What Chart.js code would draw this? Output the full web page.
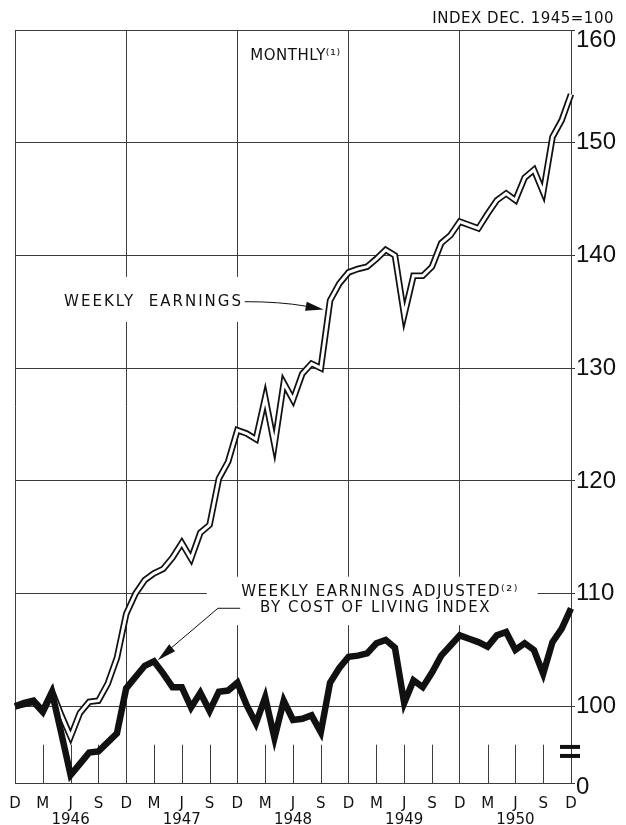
<!DOCTYPE html>
<html>
<head>
<meta charset="utf-8">
<title>Weekly earnings - index Dec. 1945 = 100</title>
<script src="https://cdn.jsdelivr.net/npm/chart.js@4.4.1/dist/chart.umd.min.js"></script>
<style>
  body { margin: 0; background: #fff; }
  canvas { display: block; }
</style>
</head>
<body>
<canvas id="earningsChart" width="626" height="825"></canvas>
<script>
// ------------------------------ data ------------------------------------------

// one entry per month, Dec 1945 ... Dec 1950
var monthLetters = [
  'D',
  'J','F','M','A','M','J','J','A','S','O','N','D',   // 1946
  'J','F','M','A','M','J','J','A','S','O','N','D',   // 1947
  'J','F','M','A','M','J','J','A','S','O','N','D',   // 1948
  'J','F','M','A','M','J','J','A','S','O','N','D',   // 1949
  'J','F','M','A','M','J','J','A','S','O','N','D'    // 1950
];
var yearLabels = ['1946', '1947', '1948', '1949', '1950'];

// weekly earnings, index Dec 1945 = 100
var weeklyEarnings = [
  100.0,
  100.3, 100.5, 99.6, 101.3, 99.2, 97.3, 99.4, 100.4, 100.5, 102.0, 104.3, 108.2,
  110.0, 111.2, 111.8, 112.2, 113.2, 114.5, 113.1, 115.4, 116.1, 120.2, 121.7, 124.5,
  124.2, 123.7, 127.4, 123.2, 128.7, 127.2, 129.5, 130.4, 130.0, 136.0, 137.5, 138.5,
  138.8, 139.0, 139.7, 140.5, 140.0, 134.7, 138.2, 138.2, 139.0, 141.1, 141.8, 143.0,
  142.7, 142.4, 143.7, 144.9, 145.5, 144.9, 146.9, 147.6, 145.6, 150.5, 152.0, 154.3
];

// weekly earnings adjusted by cost of living index
var adjustedEarnings = [
  100.0,
  100.2, 100.4, 99.5, 101.2, 97.6, 93.9, 94.9, 95.9, 96.0, 96.8, 97.6, 101.6,
  102.6, 103.6, 104.0, 102.9, 101.7, 101.7, 99.9, 101.2, 99.6, 101.3, 101.4, 102.1,
  100.1, 98.5, 100.8, 97.2, 100.5, 98.8, 98.9, 99.2, 97.7, 102.1, 103.4, 104.4,
  104.5, 104.7, 105.6, 105.9, 105.2, 100.3, 102.3, 101.7, 103.0, 104.5, 105.4, 106.3,
  106.0, 105.7, 105.3, 106.3, 106.6, 105.0, 105.6, 105.0, 102.9, 105.7, 106.9, 108.7
];

var yTickValues = [100, 110, 120, 130, 140, 150, 160];
var yBottomValue = 93.2;   // cut off scale, the bottom line is labelled 0
var yBottomLabel = '0';

// ------------------------------ styles ----------------------------------------

var ink = '#111';
var gridColor = '#3c3c3c';
var letterFont = "'DejaVu Sans', sans-serif";
var numberFont = "'Liberation Sans', sans-serif";

// ------------------------------ helpers ---------------------------------------

function drawArrowHead(ctx, fromX, fromY, tipX, tipY, len, halfWidth) {
  var ang = Math.atan2(tipY - fromY, tipX - fromX);
  var bx = tipX - Math.cos(ang) * len;
  var by = tipY - Math.sin(ang) * len;
  ctx.beginPath();
  ctx.moveTo(tipX, tipY);
  ctx.lineTo(bx + Math.sin(ang) * halfWidth, by - Math.cos(ang) * halfWidth);
  ctx.lineTo(bx - Math.sin(ang) * halfWidth, by + Math.cos(ang) * halfWidth);
  ctx.closePath();
  ctx.fill();
}

// labels, arrows and the small quarter ticks, placed through the scales
var annotationsPlugin = {
  id: 'annotations',
  beforeDatasetsDraw: function (chart) {
    var ctx = chart.ctx;
    var xs = chart.scales.x;
    var ys = chart.scales.y;
    var area = chart.chartArea;
    function X(i) { return xs.getPixelForValue(i); }
    function Y(v) { return ys.getPixelForValue(v); }

    ctx.save();

    // short quarter marks along the bottom
    ctx.strokeStyle = gridColor;
    ctx.lineWidth = 1;
    for (var i = 3; i < monthLetters.length - 1; i += 3) {
      if (i % 12 === 0) continue;
      ctx.beginPath();
      ctx.moveTo(Math.round(X(i)) + 0.5, Y(96.6));
      ctx.lineTo(Math.round(X(i)) + 0.5, area.bottom);
      ctx.stroke();
    }

    // white patches so the labels cut the grid
    ctx.fillStyle = '#fff';
    ctx.fillRect(X(4.4), Y(138.1), X(25.2) - X(4.4), Y(134.1) - Y(138.1));
    ctx.fillRect(X(20.7), Y(111.5), X(56.4) - X(20.7), Y(107.2) - Y(111.5));

    ctx.fillStyle = ink;
    ctx.textBaseline = 'middle';

    // MONTHLY (1)
    ctx.font = '15px ' + letterFont;
    ctx.textAlign = 'left';
    ctx.letterSpacing = '0.5px';
    ctx.fillText('MONTHLY\u207D\u00B9\u207E', X(25.4), Y(157.7));

    // WEEKLY EARNINGS + arrow
    ctx.letterSpacing = '2px';
    ctx.fillText('WEEKLY  EARNINGS', X(5.3), Y(135.9));
    ctx.strokeStyle = ink;
    ctx.lineWidth = 1;
    ctx.beginPath();
    ctx.moveTo(X(24.8), Y(135.9));
    ctx.quadraticCurveTo(X(28.6), Y(135.9), X(31.4), Y(135.5));
    ctx.stroke();
    drawArrowHead(ctx, X(31.0), Y(135.55), X(33.3), Y(135.2), 18, 4.5);

    // WEEKLY EARNINGS ADJUSTED (2) / BY COST OF LIVING INDEX + arrow
    ctx.textAlign = 'center';
    ctx.letterSpacing = '1.5px';
    ctx.fillText('WEEKLY EARNINGS ADJUSTED\u207D\u00B2\u207E', X(39.4), Y(110.1));
    ctx.fillText('BY COST OF LIVING INDEX', X(38.9), Y(108.75));
    ctx.beginPath();
    ctx.moveTo(X(24.3), Y(108.7));
    ctx.lineTo(X(21.9), Y(108.7));
    ctx.lineTo(X(16.6), Y(105.0));
    ctx.stroke();
    drawArrowHead(ctx, X(21.9), Y(108.7), X(15.4), Y(104.1), 19, 4.5);

    ctx.restore();
  },
  afterDraw: function (chart) {
    var ctx = chart.ctx;
    var ys = chart.scales.y;
    var area = chart.chartArea;
    ctx.save();

    // caption above the scale
    ctx.fillStyle = ink;
    ctx.font = '15px ' + letterFont;
    ctx.textAlign = 'right';
    ctx.textBaseline = 'middle';
    ctx.letterSpacing = '0.5px';
    ctx.fillText('INDEX DEC. 1945=100', chart.width - 12, 19);

    // scale break marks
    ctx.fillRect(area.right - 11, ys.getPixelForValue(96.4) - 2, 20, 4);
    ctx.fillRect(area.right - 11, ys.getPixelForValue(95.6) - 2, 20, 4);
    ctx.restore();
  }
};

// ------------------------------ chart -----------------------------------------

var ctx = document.getElementById('earningsChart');
var chart = new Chart(ctx, {
  type: 'line',
  data: {
    labels: monthLetters,
    datasets: [
      {
        label: 'Weekly earnings adjusted by cost of living index',
        data: adjustedEarnings,
        borderColor: ink,
        borderWidth: 6.5,
        borderJoinStyle: 'miter',
        pointRadius: 0,
        tension: 0,
        order: 0
      },
      {
        label: 'Weekly earnings',
        data: weeklyEarnings,
        borderColor: '#fff',
        borderWidth: 3,
        borderJoinStyle: 'miter',
        pointRadius: 0,
        tension: 0,
        order: 1
      },
      {
        label: 'Weekly earnings (outline)',
        data: weeklyEarnings,
        borderColor: ink,
        borderWidth: 6.5,
        borderJoinStyle: 'miter',
        pointRadius: 0,
        tension: 0,
        order: 2
      }
    ]
  },
  options: {
    responsive: false,
    animation: false,
    events: [],
    layout: { padding: { left: 15, top: 30, right: 0, bottom: 0 } },
    plugins: {
      legend: { display: false },
      tooltip: { enabled: false }
    },
    scales: {
      x: {
        type: 'category',
        offset: false,
        grid: {
          offset: false,
          drawTicks: false,
          lineWidth: 1,
          color: function (c) { return c.index % 12 === 0 ? gridColor : 'rgba(0,0,0,0)'; }
        },
        border: { display: true, color: gridColor, width: 1 },
        ticks: {
          autoSkip: false,
          maxRotation: 0,
          padding: 13,
          color: ink,
          font: { family: letterFont, size: 15, lineHeight: '16px' },
          callback: function (value, index) {
            if (index % 3 !== 0) return '';
            if (index % 12 === 6) return [monthLetters[index], yearLabels[(index - 6) / 12]];
            return monthLetters[index];
          }
        },
        afterFit: function (scale) {
          scale.height = 42;
          scale.paddingLeft = 0;
          scale.paddingRight = 0;
        }
      },
      y: {
        position: 'right',
        min: yBottomValue,
        max: 160,
        afterBuildTicks: function (scale) {
          scale.ticks = [{ value: yBottomValue }].concat(yTickValues.map(function (v) { return { value: v }; }));
        },
        grid: {
          color: gridColor,
          lineWidth: 1,
          drawTicks: true,
          tickLength: 4
        },
        border: { display: true, color: gridColor, width: 1 },
        ticks: {
          padding: 1,
          color: ink,
          font: function (c) {
            var v = c.tick ? c.tick.value : null;
            var lh = 1.2;
            if (v === 160) lh = '20px';
            if (v === yBottomValue) lh = '8px';
            return { family: numberFont, size: 24, lineHeight: lh };
          },
          callback: function (value) {
            if (value === yBottomValue) return ['', yBottomLabel];
            if (value === 160) return ['', '160'];
            return String(value);
          }
        },
        afterFit: function (scale) {
          scale.width = 55;
          scale.paddingTop = 0;
          scale.paddingBottom = 0;
        }
      }
    }
  },
  plugins: [annotationsPlugin]
});
</script>
</body>
</html>
